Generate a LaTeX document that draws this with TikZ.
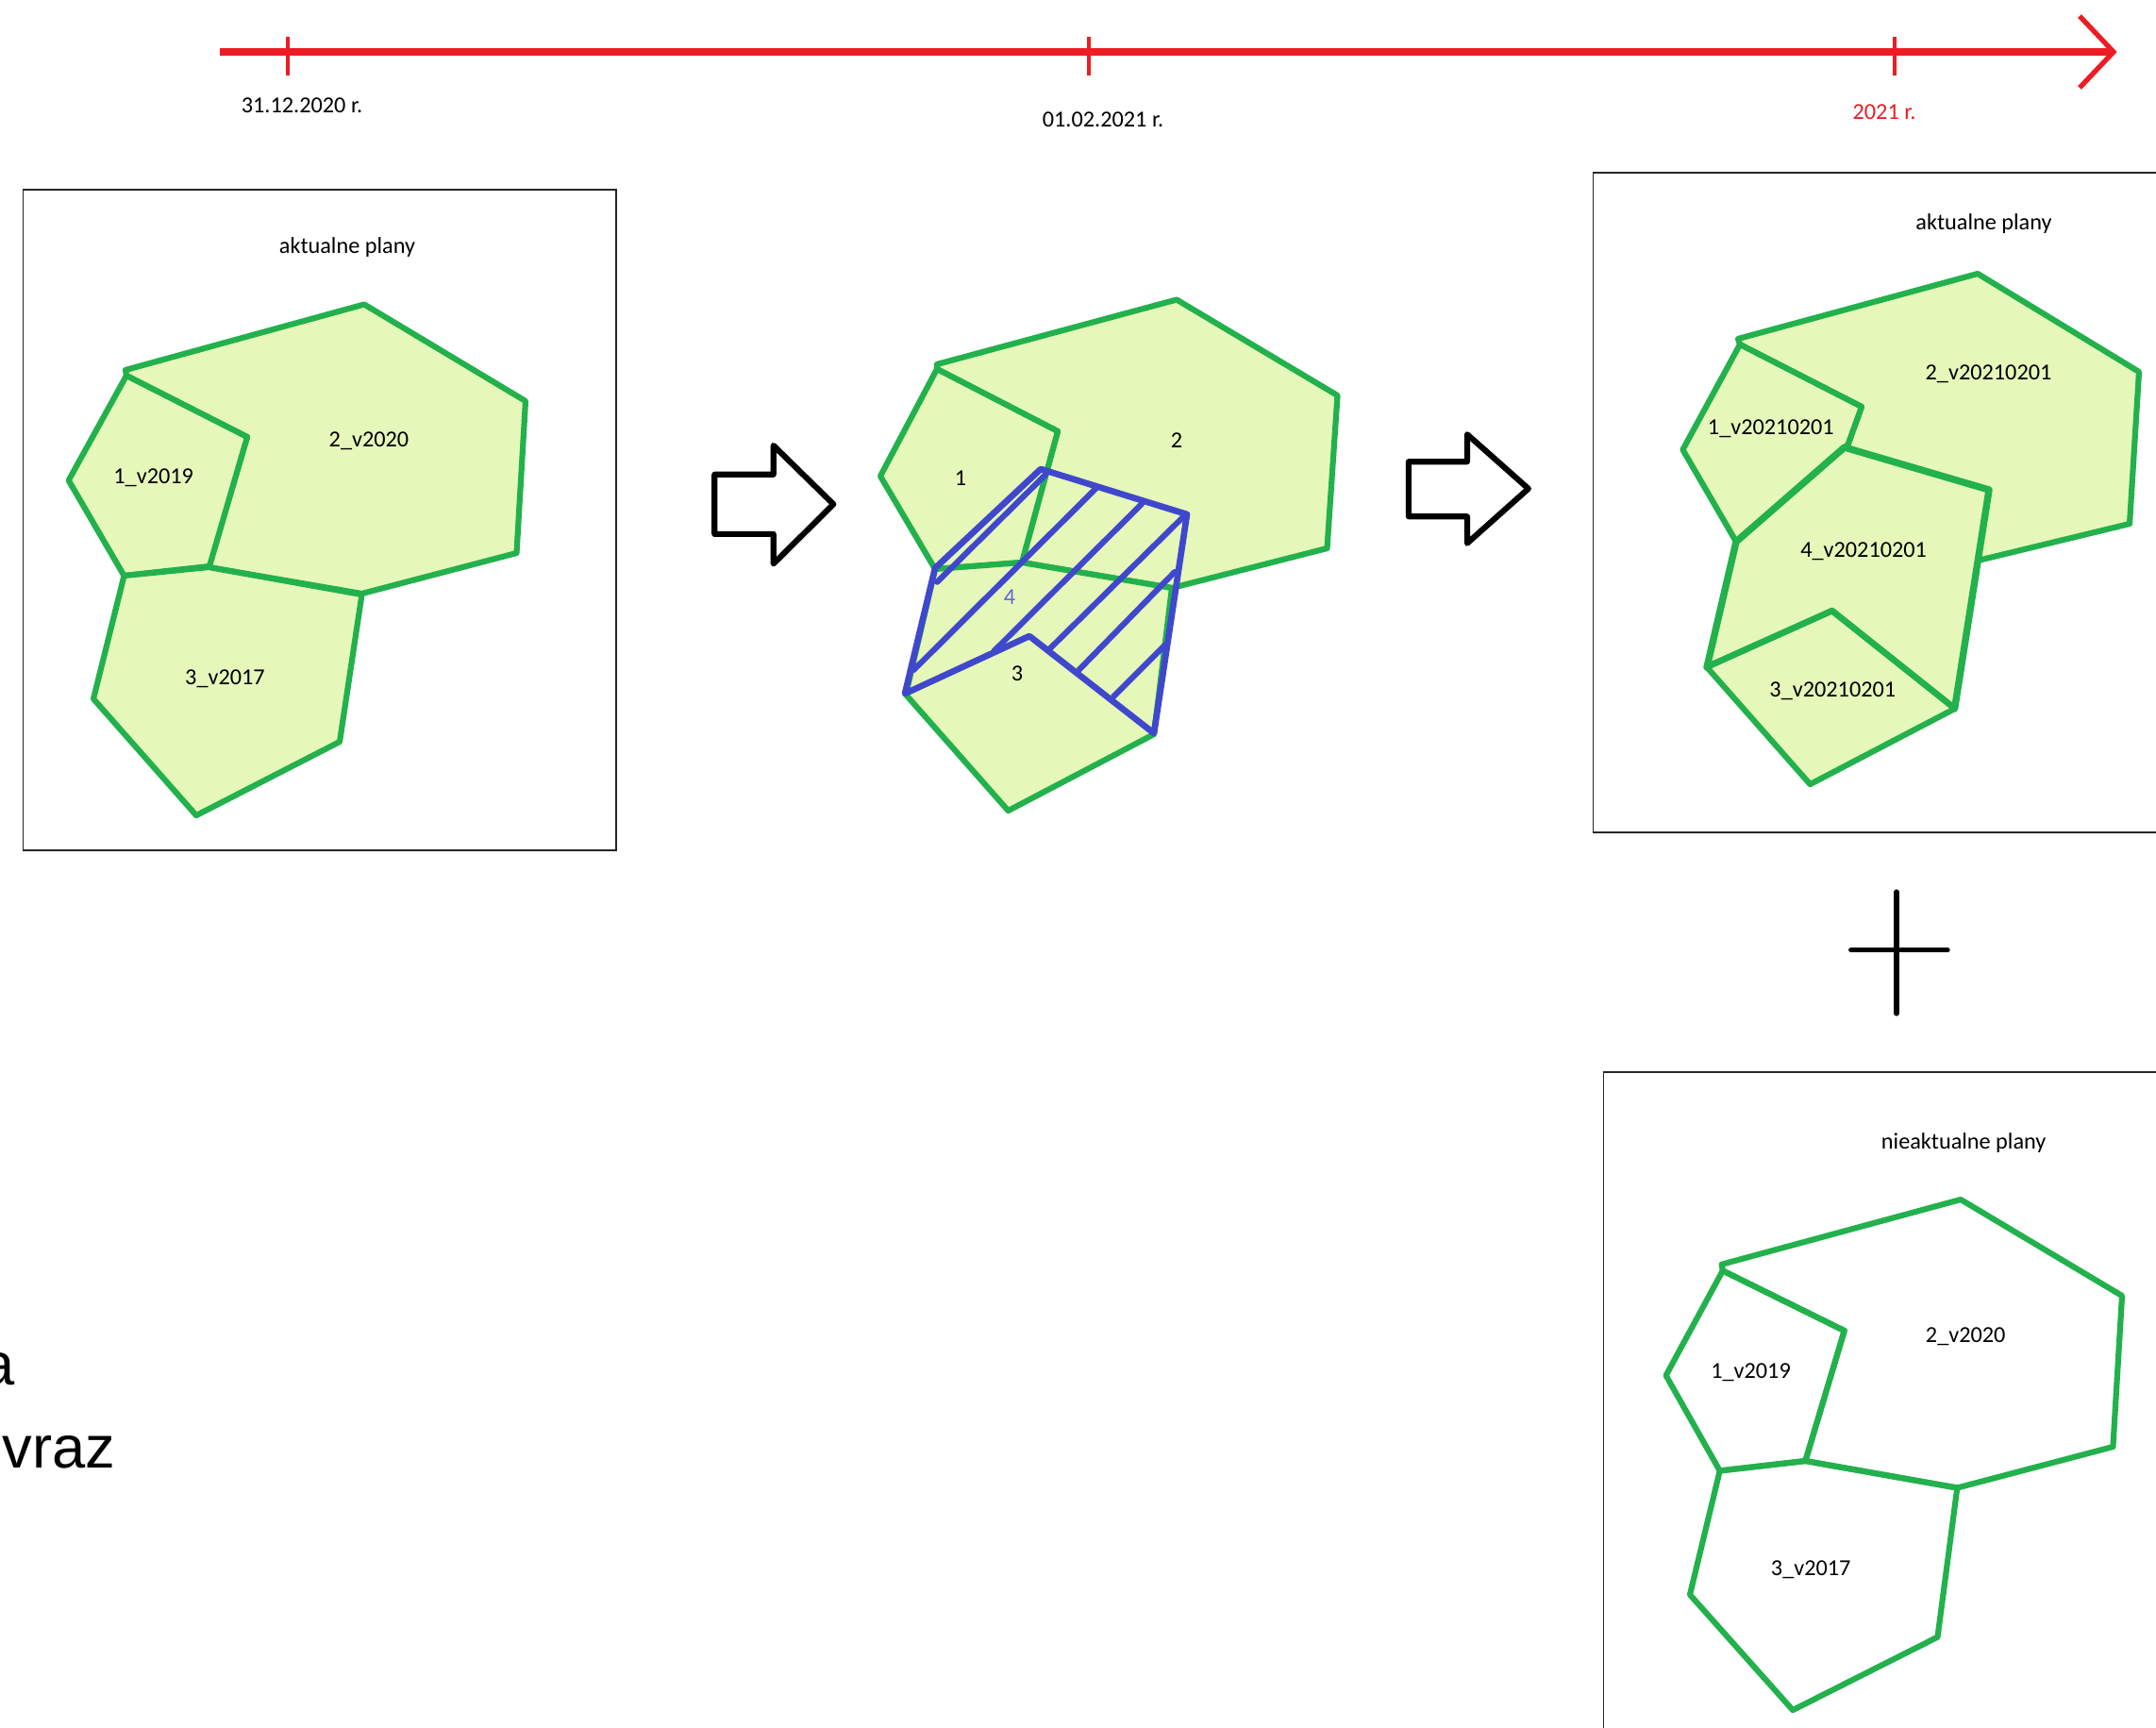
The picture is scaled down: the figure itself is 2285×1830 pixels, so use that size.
\documentclass[tikz,border=0pt]{standalone}
\usepackage{fontspec}
\setmainfont{Carlito}
\newfontfamily\slidefont{Liberation Sans}
\definecolor{plangreen}{RGB}{34,177,76}
\definecolor{planfill}{RGB}{230,247,186}
\definecolor{hatchblue}{RGB}{63,72,204}
\definecolor{numblue}{RGB}{100,100,220}
\definecolor{timered}{RGB}{237,28,36}
\begin{document}
\begin{tikzpicture}[x=0.01cm, y=-0.01cm,
    plan/.style={draw=plangreen, line width=1.75pt, line join=round, fill=planfill},
    oldplan/.style={draw=plangreen, line width=1.75pt, line join=round},
    planframe/.style={draw=black!85, line width=0.45pt},
    txt/.style={font=\fontsize{6.9}{8}\selectfont, inner sep=0pt},
    hatch/.style={draw=hatchblue, line width=1.75pt, line cap=round, line join=round},
    bigarrow/.style={draw=black, line width=1.75pt, line join=round},
    timeline/.style={draw=timered, line width=2pt}]

    \useasboundingbox (0,0) rectangle (2285,1830);
    \clip (0,0) rectangle (2285,1830);

    % time axis
    \draw[timeline] (233,55) -- (2240,55);
    \draw[timeline, line width=1.5pt] (2204,17) -- (2240,55) -- (2204,93);
    \foreach \x in {305,1154,2008} {
            \draw[timeline, line width=1.4pt] (\x,39) -- (\x,80);
        }
    \node[txt] (d2020) at (320,112) {31.12.2020 r.};
    \node[txt] (d2021) at (1169,127) {01.02.2021 r.};
    \node[txt, text=timered] (y2021) at (1997,119) {2021 r.};

    % left: plans before
    \draw[planframe] (24.5,201) rectangle (653,900.8);
    \node[txt] (leftTitle) at (368,262.5) {aktualne plany};
    \draw[plan] (133,392) -- (386,322.5) -- (557,425) -- (547.5,586) -- (383.5,629) -- (221,601) -- (262,463) -- (134,398) -- cycle;
    \draw[plan] (134,398) -- (262,463) -- (222,600) -- (131.5,610) -- (72.7,509) -- cycle;
    \draw[plan] (131.5,610) -- (221,601) -- (383.5,630) -- (360,786) -- (208,864) -- (99,740.5) -- cycle;
    \node[txt] (leftOne) at (162.7,506.4) {1\_v2019};
    \node[txt] (leftTwo) at (391,467.7) {2\_v2020};
    \node[txt] (leftThree) at (238.5,719.2) {3\_v2017};

    % hollow arrows
    \draw[bigarrow] (757.3,502.8) -- (819.7,502.8) -- (819.7,472) -- (883.3,534.3) -- (819.7,597.4) -- (819.7,565.9) -- (757.3,565.9) -- cycle;
    \draw[bigarrow] (1492.9,489.2) -- (1554.9,489.2) -- (1554.9,460.2) -- (1619.8,517.8) -- (1554.9,575.7) -- (1554.9,547.3) -- (1492.9,547.3) -- cycle;

    % middle: new plan 4
    \draw[plan] (993,386) -- (1247,317.5) -- (1417.5,419) -- (1406.5,581) -- (1242,623) -- (1083,596) -- (1121,457) -- (993,391) -- cycle;
    \draw[plan] (993,391) -- (1121,457) -- (1083,596) -- (991,603) -- (933,504.5) -- cycle;
    \draw[plan] (991,603) -- (1083,596) -- (1242,623) -- (1223,778) -- (1068.5,859) -- (960,736) -- cycle;
    \draw[hatch, line width=1.9pt] (1103,497) -- (1258,545) -- (1223,777) -- (1091,674) -- (959,735) -- (991,602) -- cycle;
    \draw[hatch] (993.3,616.7) -- (1108.3,502.7);
    \draw[hatch] (968.3,710) -- (1161.7,517.3);
    \draw[hatch] (1053.3,690) -- (1210,534);
    \draw[hatch] (1111.7,688.3) -- (1255,546.7);
    \draw[hatch] (1143.3,710) -- (1245,606);
    \draw[hatch] (1180,738.3) -- (1235,683.3);
    \node[txt] (midOne) at (1018,506.6) {1};
    \node[txt] (midTwo) at (1247,467) {2};
    \node[txt] (midThree) at (1078,714) {3};
    \node[txt, text=numblue] (midFour) at (1070,632.5) {4};

    % right: plans after
    \draw[planframe] (1688.5,182.9) rectangle (2300,881.7);
    \node[txt] (rightTitle) at (2102.5,236.6) {aktualne plany};
    \draw[plan] (1842,359) -- (2096,290) -- (2267,394) -- (2257,555) -- (2096,594) -- (2108,519) -- (1955,476.7) -- (1958.5,471) -- (1973,431) -- (1844,365) -- cycle;
    \draw[plan] (1844,365) -- (1973,431) -- (1958.5,471) -- (1840,574) -- (1783.4,476.5) -- cycle;
    \draw[plan, line width=2.1pt] (1954.7,474) -- (2108,519) -- (2071.6,751) -- (1941.6,647.5) -- (1809,707) -- (1840,574) -- cycle;
    \draw[plan] (1809,707) -- (1941.6,647.5) -- (2071.6,751) -- (1918.4,831) -- cycle;
    \node[txt] (rightOne) at (1876.8,454.7) {1\_v20210201};
    \node[txt] (rightTwo) at (2107.5,395.9) {2\_v20210201};
    \node[txt] (rightFour) at (1975.1,584.1) {4\_v20210201};
    \node[txt] (rightThree) at (1942.3,732.4) {3\_v20210201};

    % plus
    \draw[line width=1.5pt, line cap=round] (2010,945) -- (2010,1074);
    \draw[line width=1.5pt, line cap=round] (1961.7,1006.7) -- (2064,1006.7);

    % bottom: outdated plans
    \draw[planframe] (1699.3,1136) rectangle (2300,1850);
    \node[txt] (oldTitle) at (2081.2,1210.6) {nieaktualne plany};
    \draw[oldplan] (1824.7,1339.7) -- (2078,1271) -- (2249,1373) -- (2239.4,1533) -- (2074.3,1576.5) -- (1913.4,1548) -- (1954.7,1410) -- (1825.8,1346.4) -- cycle;
    \draw[oldplan] (1825.8,1346.4) -- (1954.7,1410) -- (1913.4,1548) -- (1822.7,1558.4) -- (1765.6,1457.4) -- cycle;
    \draw[oldplan] (1822.7,1558.4) -- (1913.4,1548) -- (2074.3,1576.5) -- (2053.5,1734.6) -- (1900,1812) -- (1791,1689.7) -- cycle;
    \node[txt] (oldOne) at (1855.5,1454.2) {1\_v2019};
    \node[txt] (oldTwo) at (2083.2,1416.6) {2\_v2020};
    \node[txt] (oldThree) at (1919.2,1663.5) {3\_v2017};

    % slide text at the edge
    \node[anchor=base east, inner sep=0pt, font=\slidefont\fontsize{18}{21}\selectfont] (slideA) at (16,1467) {a};
    \node[anchor=base east, inner sep=0pt, font=\slidefont\fontsize{18}{21}\selectfont] (slideB) at (123,1555) {vraz};

\end{tikzpicture}
\end{document}
